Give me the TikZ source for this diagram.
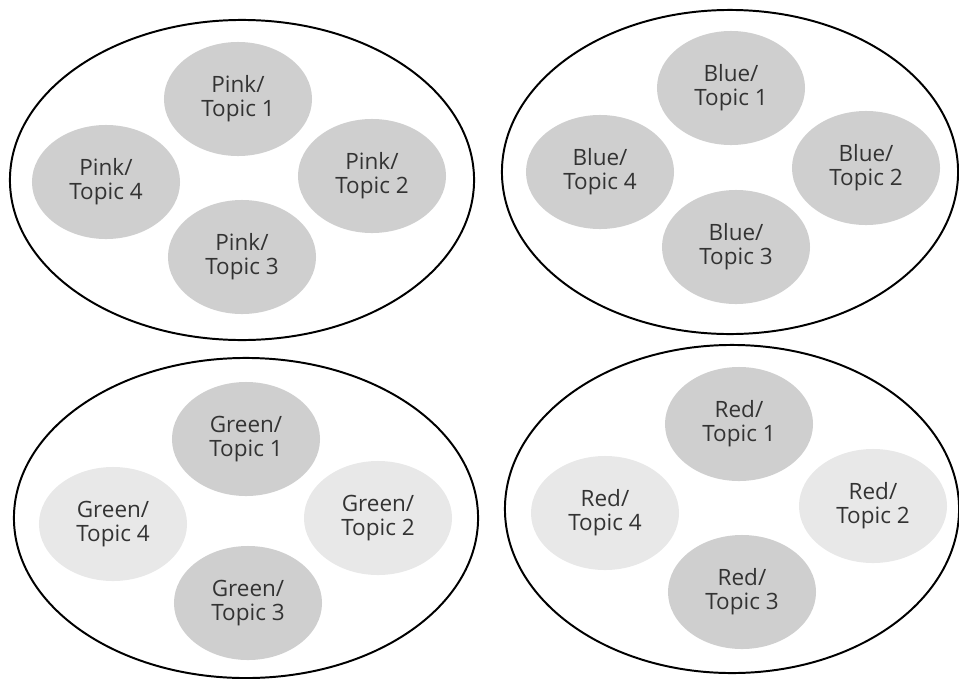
\documentclass[tikz,border=0pt]{standalone}
\usepackage{fontspec}
\setmainfont{Open Sans}
\usepackage{tikz}
\usetikzlibrary{shapes.geometric}
\tikzset{group/.style = {ellipse, draw, line width=1.4pt, inner sep=0pt},
         topic/.style = {ellipse, fill=black!19, inner sep=0pt,
                         minimum width=3.7cm, minimum height=2.85cm,
                         align=center, text=black!80,
                         font=\fontsize{16}{17}\selectfont},
         faint/.style = {topic, fill=black!9}}

\begin{document}
\begin{tikzpicture}[x=0.025cm, y=-0.025cm]
    \useasboundingbox (0, 0) rectangle (959, 678);

    \node [group, minimum width=11.6cm, minimum height=8cm] (pink) at (242, 180) {};
    \node [group, minimum width=11.4cm, minimum height=8.1cm] (blue) at (730, 172) {};
    \node [group, minimum width=11.6cm, minimum height=8cm] (green) at (246, 518) {};
    \node [group, minimum width=11.35cm, minimum height=8.2cm] (red) at (732, 509) {};

    \node [topic] (pink1) at (238, 99) {Pink/\\Topic 1};
    \node [topic] (pink2) at (372, 176) {Pink/\\Topic 2};
    \node [topic] (pink3) at (242, 257) {Pink/\\Topic 3};
    \node [topic] (pink4) at (106, 182) {Pink/\\Topic 4};

    \node [topic] (blue1) at (731, 88) {Blue/\\Topic 1};
    \node [topic] (blue2) at (866, 168) {Blue/\\Topic 2};
    \node [topic] (blue3) at (736, 247) {Blue/\\Topic 3};
    \node [topic] (blue4) at (600, 172) {Blue/\\Topic 4};

    \node [topic] (green1) at (246, 439) {Green/\\Topic 1};
    \node [faint] (green2) at (378, 518) {Green/\\Topic 2};
    \node [topic] (green3) at (248, 603) {Green/\\Topic 3};
    \node [faint] (green4) at (113, 524) {Green/\\Topic 4};

    \node [topic] (red1) at (739, 424) {Red/\\Topic 1};
    \node [faint] (red2) at (873, 506) {Red/\\Topic 2};
    \node [topic] (red3) at (742, 592) {Red/\\Topic 3};
    \node [faint] (red4) at (605, 513) {Red/\\Topic 4};
  \end{tikzpicture}
\end{document}
